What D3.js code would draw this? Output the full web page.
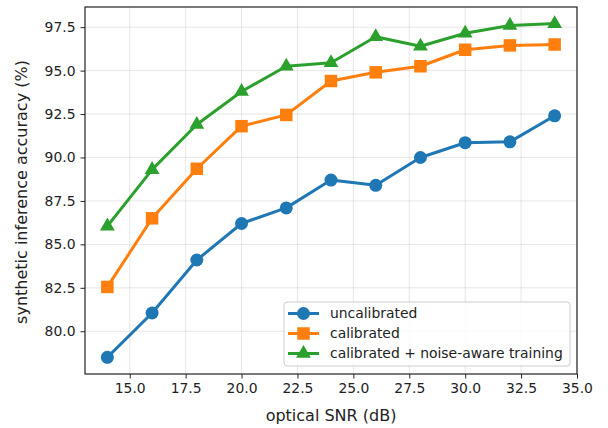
<!DOCTYPE html>
<html>
<head>
<meta charset="utf-8">
<script src="https://cdn.jsdelivr.net/npm/d3@7"></script>
<style>
  body { margin: 0; background: #fff; }
  text { font-family: "DejaVu Sans", sans-serif; fill: #222; }
</style>
</head>
<body>
<svg id="chart" width="608" height="428"></svg>
<script>
var snr = [14, 16, 18, 20, 22, 24, 26, 28, 30, 32, 34];
var uncalibrated = [78.5, 81.05, 84.1, 86.2, 87.1, 88.7, 88.4, 90.0, 90.85, 90.9, 92.4];
var calibrated = [82.55, 86.5, 89.35, 91.8, 92.45, 94.4, 94.9, 95.25, 96.2, 96.45, 96.5];
var noiseAware = [86.05, 89.3, 91.9, 93.8, 95.25, 95.45, 96.95, 96.4, 97.15, 97.6, 97.7];
var xTicks = [15, 17.5, 20, 22.5, 25, 27.5, 30, 32.5, 35];
var yTicks = [80, 82.5, 85, 87.5, 90, 92.5, 95, 97.5];

var series = [
  {name: "uncalibrated", values: uncalibrated, color: "#1f77b4", marker: "circle"},
  {name: "calibrated", values: calibrated, color: "#ff7f0e", marker: "square"},
  {name: "calibrated + noise-aware training", values: noiseAware, color: "#2ca02c", marker: "triangle"}
];

var margin = {left: 85, right: 31, top: 7, bottom: 54};
var width = 608 - margin.left - margin.right;
var height = 428 - margin.top - margin.bottom;
var fontSize = "13.9px";
var labelSize = "16px";

var svg = d3.select("#chart");
var g = svg.append("g").attr("transform", "translate(" + margin.left + "," + margin.top + ")");

// matplotlib style 5% padding
var all = uncalibrated.concat(calibrated, noiseAware);
var ymin = d3.min(all), ymax = d3.max(all), ypad = (ymax - ymin) * 0.05;
var xpad = (d3.max(snr) - d3.min(snr)) * 0.05;

var x = d3.scaleLinear().domain([d3.min(snr) - xpad, d3.max(snr) + xpad]).range([0, width]);
var y = d3.scaleLinear().domain([ymin - ypad, ymax + ypad]).range([height, 0]);

// grid
g.append("g").selectAll("line").data(xTicks).enter().append("line")
  .attr("x1", function(d) {return x(d)}).attr("x2", function(d) {return x(d)})
  .attr("y1", 0).attr("y2", height)
  .attr("stroke", "#b0b0b0").attr("stroke-opacity", 0.3).attr("stroke-width", 1);
g.append("g").selectAll("line").data(yTicks).enter().append("line")
  .attr("y1", function(d) {return y(d)}).attr("y2", function(d) {return y(d)})
  .attr("x1", 0).attr("x2", width)
  .attr("stroke", "#b0b0b0").attr("stroke-opacity", 0.3).attr("stroke-width", 1);

// lines and markers
var line = d3.line()
  .x(function(d, i) {return x(snr[i])})
  .y(function(d) {return y(d)});

var symbols = {
  circle: d3.symbol().type(d3.symbolCircle).size(Math.PI * 6.5 * 6.5),
  square: d3.symbol().type(d3.symbolSquare).size(12.5 * 12.5),
  triangle: d3.symbol().type(d3.symbolTriangle).size(95)
};

series.forEach(function(s) {
  g.append("path")
    .attr("d", line(s.values))
    .attr("fill", "none")
    .attr("stroke", s.color)
    .attr("stroke-width", 3)
    .attr("stroke-linejoin", "round")
    .attr("stroke-linecap", "square");
  g.append("g").selectAll("path").data(s.values).enter().append("path")
    .attr("transform", function(d, i) {return "translate(" + x(snr[i]) + "," + y(d) + ")"})
    .attr("d", symbols[s.marker])
    .attr("fill", s.color);
});

// axes
var xAxis = d3.axisBottom(x).tickValues(xTicks).tickFormat(d3.format(".1f")).tickSize(4.5).tickPadding(5);
var yAxis = d3.axisLeft(y).tickValues(yTicks).tickFormat(d3.format(".1f")).tickSize(4.5).tickPadding(5);

var gx = g.append("g").attr("transform", "translate(0," + height + ")").call(xAxis);
var gy = g.append("g").call(yAxis);
[gx, gy].forEach(function(a) {
  a.select(".domain").remove();
  a.selectAll("line").attr("stroke", "#222").attr("stroke-width", 1);
  a.selectAll("text").style("font-size", fontSize).attr("fill", "#222");
});

// frame
g.append("rect").attr("width", width).attr("height", height)
  .attr("fill", "none").attr("stroke", "#222").attr("stroke-width", 1.2);

// axis labels
svg.append("text")
  .attr("x", margin.left + width / 2).attr("y", 421)
  .attr("text-anchor", "middle").style("font-size", labelSize)
  .text("optical SNR (dB)");
svg.append("text")
  .attr("transform", "translate(26.5," + (margin.top + height / 2 + 1.5) + ") rotate(-90)")
  .attr("text-anchor", "middle").style("font-size", labelSize)
  .text("synthetic inference accuracy (%)");

// legend
var lg = svg.append("g").attr("transform", "translate(284,302)");
lg.append("rect").attr("width", 286).attr("height", 64).attr("rx", 3)
  .attr("fill", "#fff").attr("fill-opacity", 0.8).attr("stroke", "#cccccc").attr("stroke-width", 1);
series.forEach(function(s, i) {
  var row = lg.append("g").attr("transform", "translate(0," + (11.5 + i * 20) + ")");
  row.append("line").attr("x1", 4).attr("x2", 35).attr("stroke", s.color).attr("stroke-width", 3);
  row.append("path").attr("transform", "translate(19.5,0)").attr("d", symbols[s.marker]).attr("fill", s.color);
  row.append("text").attr("x", 46).attr("dy", "0.35em").style("font-size", fontSize).text(s.name);
});
</script>
</body>
</html>
